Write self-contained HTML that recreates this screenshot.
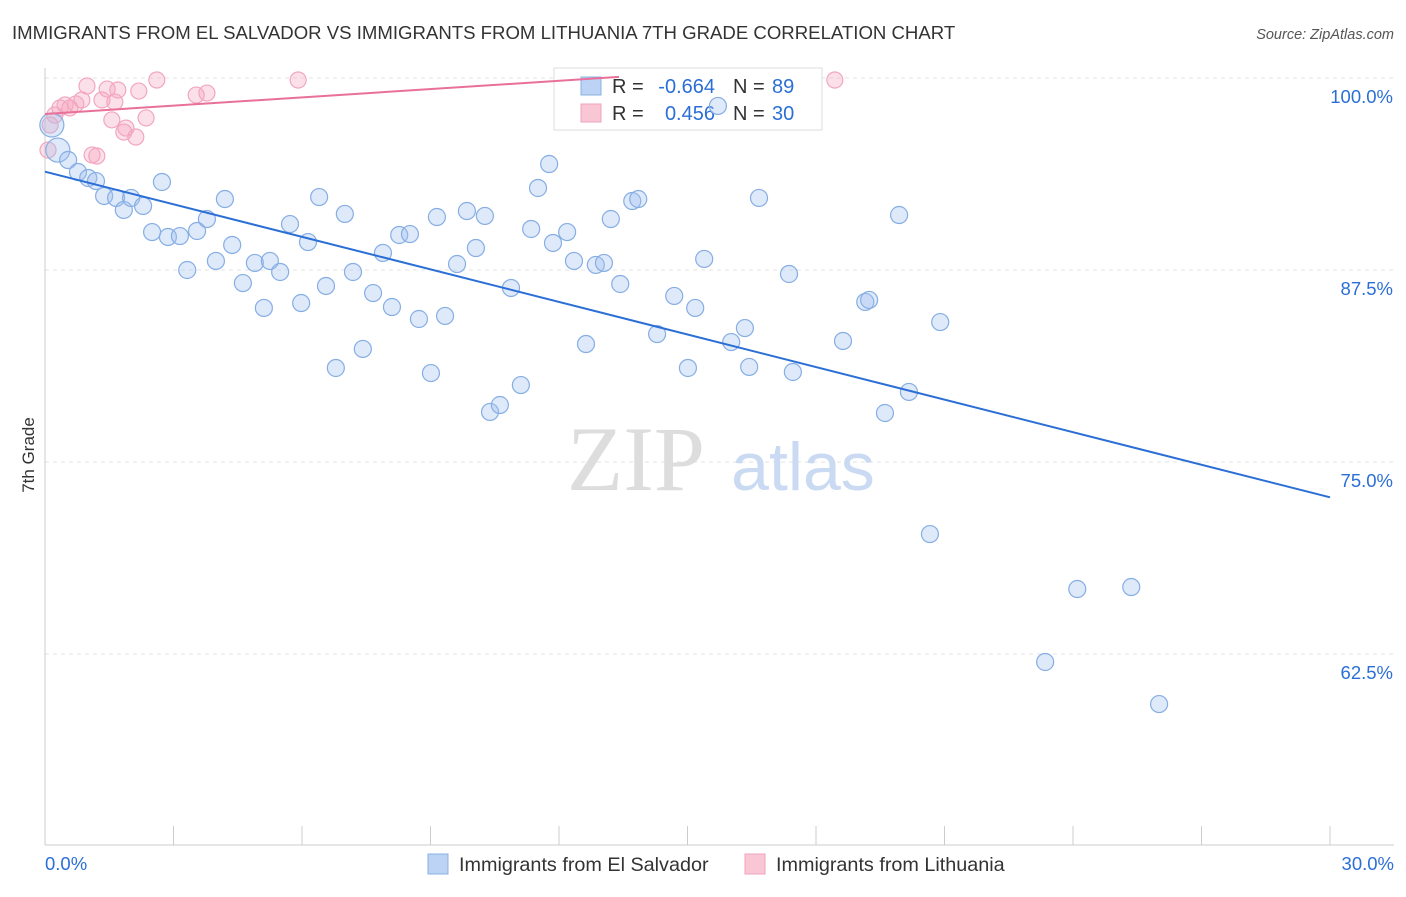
<!DOCTYPE html>
<html><head><meta charset="utf-8"><style>
body{margin:0;background:#fff;font-family:"Liberation Sans",sans-serif;}
</style></head><body>
<svg width="1406" height="892" xmlns="http://www.w3.org/2000/svg" style="font-family:'Liberation Sans',sans-serif">
<text x="12" y="39" font-size="18.6" fill="#333">IMMIGRANTS FROM EL SALVADOR VS IMMIGRANTS FROM LITHUANIA 7TH GRADE CORRELATION CHART</text>
<text x="1394" y="39" font-size="14.5" fill="#555" font-style="italic" text-anchor="end">Source: ZipAtlas.com</text>
<g id="grid"></g>
<g><text x="636" y="490" font-size="92" fill="#ddd" font-family="Liberation Serif,serif" text-anchor="middle">ZIP</text><text x="803" y="490" font-size="68" fill="#c9daf2" text-anchor="middle">atlas</text></g>
<g id="axes"></g>
<g>
<rect x="554" y="68" width="268" height="62" fill="#fff" stroke="#ddd"/>
<rect x="581" y="77" width="20" height="18" fill="#bcd3f5" stroke="#8ab0e0"/>
<rect x="581" y="104" width="20" height="18" fill="#f9c6d6" stroke="#f0a3bd"/>
<text x="612" y="93" font-size="20" fill="#333">R =</text>
<text x="715" y="93" font-size="20" fill="#2b6fd6" text-anchor="end">-0.664</text>
<text x="733" y="93" font-size="20" fill="#333">N =</text>
<text x="772" y="93" font-size="20" fill="#2b6fd6">89</text>
<text x="612" y="120" font-size="20" fill="#333">R =</text>
<text x="715" y="120" font-size="20" fill="#2b6fd6" text-anchor="end">0.456</text>
<text x="733" y="120" font-size="20" fill="#333">N =</text>
<text x="772" y="120" font-size="20" fill="#2b6fd6">30</text>
</g>
<g id="pts"></g>
<g id="trend"></g>
<text transform="translate(34,455) rotate(-90)" font-size="17" fill="#333" text-anchor="middle">7th Grade</text>
<g>
<rect x="428" y="854" width="20" height="20" fill="#bcd3f5" stroke="#8ab0e0"/>
<text x="459" y="871" font-size="19.8" fill="#333">Immigrants from El Salvador</text>
<rect x="745" y="854" width="20" height="20" fill="#f9c6d6" stroke="#f0a3bd"/>
<text x="776" y="871" font-size="19.8" fill="#333">Immigrants from Lithuania</text>
</g>
</svg>
<script>
const blueX=[0.16,0.30,0.54,0.77,1.01,1.19,1.38,1.66,1.84,2.01,2.29,2.50,2.73,2.87,3.15,3.32,3.55,3.78,3.99,4.20,4.37,4.62,4.90,5.11,5.25,5.49,5.72,5.98,6.14,6.40,6.56,6.79,7.00,7.19,7.42,7.66,7.89,8.10,8.27,8.52,8.73,9.01,9.15,9.34,9.62,9.85,10.06,10.27,10.39,10.62,10.88,11.11,11.35,11.51,11.77,11.86,12.19,12.35,12.63,12.86,13.05,13.21,13.43,13.71,13.85,14.29,14.69,15.01,15.18,15.39,15.71,16.02,16.34,16.44,16.67,17.37,17.46,18.63,19.15,19.24,19.61,19.94,20.17,20.90,20.66,24.10,25.36,23.35,26.01];
const blueY=[96.94,95.31,94.66,93.88,93.49,93.29,92.32,92.19,91.41,92.19,91.67,89.97,93.23,89.65,89.71,87.50,90.04,90.82,88.09,92.12,89.13,86.65,87.96,85.03,88.09,87.37,90.49,85.35,89.32,92.25,86.46,81.12,91.15,87.37,82.36,86.00,88.61,85.09,89.78,89.84,84.31,80.79,90.95,84.51,87.89,91.34,88.93,91.02,78.26,78.71,86.33,80.01,90.17,92.84,94.40,89.26,89.97,88.09,82.68,87.83,87.96,90.82,86.59,91.99,92.12,83.33,85.81,81.12,85.03,88.22,98.18,82.81,83.72,81.19,92.19,87.24,80.86,82.88,85.42,85.55,78.19,91.08,79.56,84.11,70.31,66.73,66.86,61.98,59.24];
const pinkX=[0.07,0.12,0.23,0.35,0.47,0.58,0.72,0.86,0.98,1.10,1.21,1.33,1.45,1.56,1.63,1.70,1.84,1.89,2.12,2.19,2.36,2.61,3.53,3.78,5.91,18.44];
const pinkY=[95.31,96.94,97.59,98.05,98.24,98.05,98.31,98.57,99.48,94.99,94.92,98.57,99.28,97.27,98.44,99.22,96.48,96.74,96.16,99.15,97.40,99.87,98.89,99.02,99.87,99.87];
const blueTrend=[[0,93.9],[30,72.7]];
const pinkTrend=[[0,97.66],[13.4,100.07]];
const yTicks=[100,87.5,75,62.5];
const yTickLabels=["100.0%","87.5%","75.0%","62.5%"];
const xTickCount=10;
const NS="http://www.w3.org/2000/svg";
const sx=v=>45+v/30*1285;
const sy=v=>78+(100-v)/12.5*192;
function mk(tag,at,parent){const e=document.createElementNS(NS,tag);for(const k in at)e.setAttribute(k,at[k]);parent.appendChild(e);return e;}
const grid=document.getElementById('grid'),axes=document.getElementById('axes'),pts=document.getElementById('pts'),trend=document.getElementById('trend');
yTicks.forEach((t,i)=>{
 const l=mk('line',{x1:45,x2:1394,y1:sy(t),y2:sy(t),stroke:'#e3e3e3','stroke-dasharray':'4,4'},grid);
 
 
 const tx=mk('text',{x:1393,y:sy(t)+25,'font-size':18.5,fill:'#2b6fd6','text-anchor':'end'},axes);
 tx.textContent=yTickLabels[i];
 
 
});
mk('line',{x1:45,x2:45,y1:68,y2:845,stroke:'#ccc'},axes);
mk('line',{x1:45,x2:1394,y1:845,y2:845,stroke:'#ccc'},axes);
for(let i=0;i<=xTickCount;i++){
 const t=mk('line',{x1:sx(i*3),x2:sx(i*3),y1:826,y2:845,stroke:'#ccc'},axes);
 
 
}
const x0=mk('text',{x:45,y:870,'font-size':18.5,fill:'#2b6fd6'},axes);x0.textContent='0.0%';


const x1=mk('text',{x:1394,y:870,'font-size':18.5,fill:'#2b6fd6','text-anchor':'end'},axes);x1.textContent='30.0%';


pinkX.forEach((x,i)=>{
 const c=mk('circle',{cx:sx(x),cy:sy(pinkY[i]),r:8,fill:'rgba(245,165,192,0.35)',stroke:'#f2a6c0','stroke-width':1.2},pts);
 
 
});
blueX.forEach((x,i)=>{
 const c=mk('circle',{cx:sx(x),cy:sy(blueY[i]),r:i<2?12:8.5,fill:'rgba(160,192,238,0.35)',stroke:'#86aee4','stroke-width':1.2},pts);
 
 
});
const bl=mk('line',{x1:sx(blueTrend[0][0]),y1:sy(blueTrend[0][1]),x2:sx(blueTrend[1][0]),y2:sy(blueTrend[1][1]),stroke:'#2b6fd6','stroke-width':2},trend);


const pl=mk('line',{x1:sx(pinkTrend[0][0]),y1:sy(pinkTrend[0][1]),x2:sx(pinkTrend[1][0]),y2:sy(pinkTrend[1][1]),stroke:'#e8709a','stroke-width':2},trend);


</script>
</body></html>
